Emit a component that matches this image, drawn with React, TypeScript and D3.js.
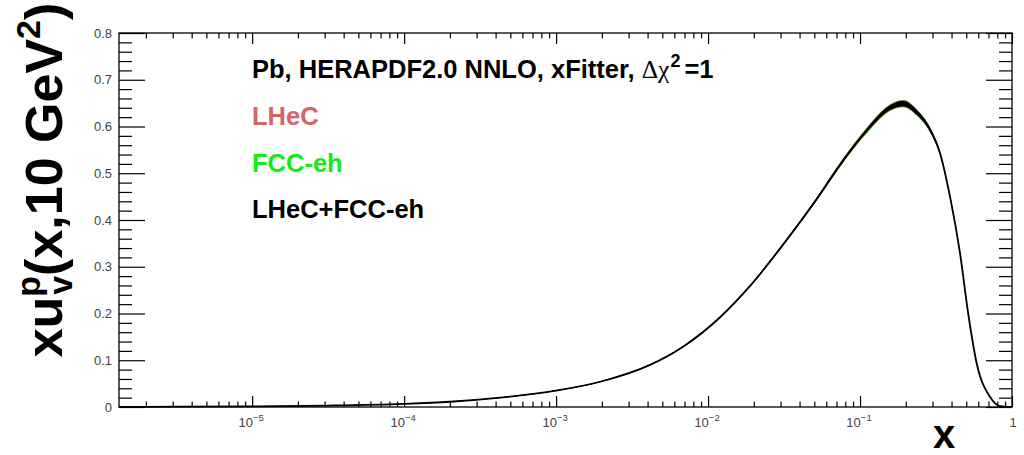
import React, { useEffect, useRef } from "react";
import * as d3 from "d3";

// Bjorken-x sample points and the valence-up distribution xu_v(x, Q^2 = 10 GeV^2)
const xPoints = [
  1.33e-6, 3.16e-6, 1e-5, 3.16e-5, 1e-4, 2e-4, 4.3e-4, 1e-3, 1.95e-3, 4.15e-3,
  6.85e-3, 1.2e-2, 1.89e-2, 3.11e-2, 5.19e-2, 7.73e-2, 0.111, 0.157, 0.192,
  0.24, 0.289, 0.336, 0.391, 0.455, 0.515, 0.586, 0.716, 0.834, 1.0,
];
const centralValues = [
  0.0003, 0.0006, 0.0014, 0.0031, 0.0068, 0.0112, 0.02, 0.035, 0.054, 0.09,
  0.129, 0.192, 0.259, 0.347, 0.445, 0.527, 0.592, 0.64, 0.649, 0.628,
  0.593, 0.543, 0.45, 0.329, 0.2, 0.093, 0.022, 0.002, 0,
];
// Half-widths of the Δχ²=1 uncertainty bands
const lhecErr = [
  0.0002, 0.0003, 0.0004, 0.0005, 0.0006, 0.0007, 0.0008, 0.001, 0.0012, 0.0014,
  0.0016, 0.0019, 0.0024, 0.003, 0.0038, 0.005, 0.0064, 0.0078, 0.0084, 0.0074,
  0.006, 0.0048, 0.0036, 0.0028, 0.0022, 0.0016, 0.001, 0.0005, 0,
];
const fccErr = [
  0.0002, 0.0002, 0.0003, 0.0004, 0.0005, 0.0006, 0.0007, 0.0008, 0.001, 0.0012,
  0.0013, 0.0016, 0.002, 0.0026, 0.0033, 0.0043, 0.0055, 0.0067, 0.0072, 0.0064,
  0.0052, 0.0041, 0.0031, 0.0024, 0.0019, 0.0014, 0.0008, 0.0004, 0,
];
const combErr = [
  0.0001, 0.0002, 0.0002, 0.0003, 0.0004, 0.0004, 0.0005, 0.0006, 0.0007, 0.0008,
  0.0009, 0.0011, 0.0015, 0.002, 0.0026, 0.0034, 0.0045, 0.0055, 0.006, 0.0052,
  0.0042, 0.0033, 0.0024, 0.0018, 0.0014, 0.001, 0.0006, 0.0003, 0,
];

const xDomain = [1.33e-6, 1];
const yDomain = [0, 0.8];
const xMajorExponents = [-5, -4, -3, -2, -1];
const yTickLabels = ["0", "0.1", "0.2", "0.3", "0.4", "0.5", "0.6", "0.7", "0.8"];

const series = [
  { name: "LHeC", err: lhecErr, fill: "#e07474", color: "#d86464" },
  { name: "FCC-eh", err: fccErr, fill: "#22ee22", color: "#12ee12" },
  { name: "LHeC+FCC-eh", err: combErr, fill: "#000000", color: "#000000" },
];

const W = 1024;
const H = 455;
const padL = 119;
const padR = 1012;
const padT = 33;
const padB = 407;
const FONT = "'Liberation Sans', Arial, Helvetica, sans-serif";

type Pt = { x: number; v: number; i: number };

export default function App() {
  const axesRef = useRef<SVGGElement>(null);
  const xs = d3.scaleLog().domain(xDomain).range([padL, padR]);
  const ys = d3.scaleLinear().domain(yDomain).range([padB, padT]);

  const data: Pt[] = xPoints.map((xv, i) => ({ x: xv, v: centralValues[i], i }));

  const band = (err: number[]) =>
    d3
      .area<Pt>()
      .x((d) => xs(d.x))
      .y0((d) => ys(Math.max(0, d.v - err[d.i])))
      .y1((d) => ys(d.v + err[d.i]))
      .curve(d3.curveMonotoneX)(data) || "";

  const centralLine =
    d3
      .line<Pt>()
      .x((d) => xs(d.x))
      .y((d) => ys(d.v))
      .curve(d3.curveMonotoneX)(data) || "";

  // tick marks on all four sides, drawn with d3 axes
  useEffect(() => {
    const g = d3.select(axesRef.current);
    g.selectAll("*").remove();

    const minorX: number[] = [];
    for (let e = -6; e <= -1; e++) {
      for (let m = 2; m <= 9; m++) {
        const v = m * Math.pow(10, e);
        if (v >= xDomain[0] && v <= xDomain[1]) minorX.push(v);
      }
    }
    const majorX = [...xMajorExponents.map((e) => Math.pow(10, e)), 1];
    const yMajor = yTickLabels.map((t) => +t);
    const yMinor = d3
      .range(1, 40)
      .filter((k) => k % 5 !== 0)
      .map((k) => k * 0.02);

    const draw = (axis: d3.Axis<d3.NumberValue>, tx: number, ty: number) => {
      const sel = g.append("g").attr("transform", `translate(${tx},${ty})`).call(axis);
      sel.selectAll("text").remove();
      sel.select(".domain").remove();
      sel.selectAll("line").attr("stroke", "#000").attr("stroke-width", 1.2);
    };

    draw(d3.axisTop(xs).tickValues(majorX).tickSize(11), 0, padB);
    draw(d3.axisTop(xs).tickValues(minorX).tickSize(5.5), 0, padB);
    draw(d3.axisBottom(xs).tickValues(majorX).tickSize(11), 0, padT);
    draw(d3.axisBottom(xs).tickValues(minorX).tickSize(5.5), 0, padT);
    draw(d3.axisRight(ys).tickValues(yMajor).tickSize(26), padL, 0);
    draw(d3.axisRight(ys).tickValues(yMinor).tickSize(13), padL, 0);
    draw(d3.axisLeft(ys).tickValues(yMajor).tickSize(26), padR, 0);
    draw(d3.axisLeft(ys).tickValues(yMinor).tickSize(13), padR, 0);
  });

  return (
    <svg
      width={W}
      height={H}
      style={{ position: "fixed", left: 0, top: 0, background: "#fff" }}
      fontFamily={FONT}
    >
      <rect x={0} y={0} width={W} height={H} fill="#fff" />

      {/* uncertainty bands and central curve */}
      {series.map((s, k) => (
        <path
          key={s.name}
          d={band(s.err)}
          fill={s.fill}
          fillOpacity={k === 2 ? 1 : 0.75}
          stroke="none"
        />
      ))}
      <path d={centralLine} fill="none" stroke="#000" strokeWidth={1.8} />

      <g ref={axesRef} />

      {/* frame */}
      <rect
        x={padL}
        y={padT}
        width={padR - padL}
        height={padB - padT}
        fill="none"
        stroke="#000"
        strokeWidth={1.3}
      />

      {/* y tick labels */}
      <g fontSize={13} fill="#444" textAnchor="end">
        {yTickLabels.map((t) => (
          <text key={t} x={112} y={ys(+t)} dy="0.36em">
            {t}
          </text>
        ))}
      </g>

      {/* x tick labels */}
      <g fontSize={13} fill="#444" textAnchor="middle">
        {xMajorExponents.map((e) => (
          <text key={e} x={xs(Math.pow(10, e)) - 1} y={427}>
            10
            <tspan fontSize={9.5} dy={-6}>
              {"\u2212" + Math.abs(e)}
            </tspan>
          </text>
        ))}
        <text x={xs(1) + 1} y={427}>
          1
        </text>
      </g>

      {/* axis titles */}
      <text x={944} y={448} fontSize={40} fontWeight="bold" textAnchor="middle" fill="#000">
        x
      </text>
      <text
        transform="translate(62,180) rotate(-90)"
        fontSize={52}
        fontWeight="bold"
        textAnchor="middle"
        fill="#000"
      >
        xu
        <tspan fontSize={34} dy={-22}>p</tspan>
        <tspan fontSize={34} dx={-19} dy={32}>v</tspan>
        <tspan dy={-10}>(x,10 GeV</tspan>
        <tspan fontSize={34} dy={-22}>2</tspan>
        <tspan dy={22}>)</tspan>
      </text>

      {/* legend */}
      <g fontSize={25.5} fontWeight="bold">
        <text x={252} y={78} fill="#000">
          Pb, HERAPDF2.0 NNLO, xFitter,{" "}
          <tspan fontFamily="'Liberation Serif', 'Times New Roman', serif" fontWeight="normal">
            {"\u0394\u03C7"}
          </tspan>
          <tspan fontSize={18} dx={1} dy={-11}>2</tspan>
          <tspan dx={4} dy={11}>=1</tspan>
        </text>
        {series.map((s, k) => (
          <text key={s.name} x={252} y={125 + k * 46.6} fill={s.color}>
            {s.name}
          </text>
        ))}
      </g>
    </svg>
  );
}
